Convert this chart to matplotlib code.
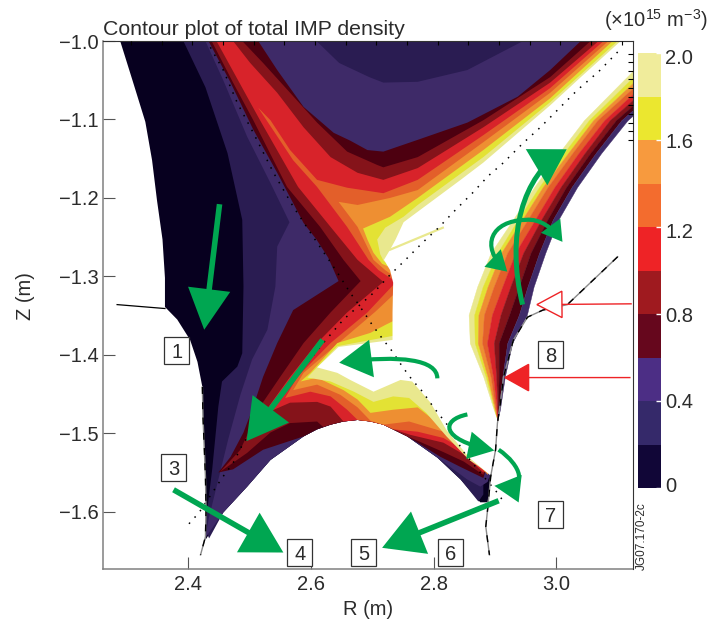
# Contour plot of total IMP density, redrawn from level outlines.
import matplotlib
matplotlib.use("Agg")
import matplotlib.pyplot as plt
import numpy as np
from matplotlib.cm import ScalarMappable
from matplotlib.colors import BoundaryNorm, ListedColormap
from matplotlib.patches import FancyArrowPatch, Rectangle
from matplotlib.path import Path
from matplotlib.transforms import ScaledTranslation

plt.rcParams["font.family"] = ["Liberation Sans", "DejaVu Sans"]
plt.rcParams["mathtext.fontset"] = "custom"
plt.rcParams["mathtext.rm"] = "Liberation Sans"
plt.rcParams["mathtext.default"] = "regular"

TXT = "#2b2b2b"
GREEN = "#00a651"
RED = "#ee2326"

# Colours of the ten density bands, in the plot and in the colour bar.
plot_colors = ["#07001f", "#2a1c52", "#3e2a68", "#4d0010", "#85131a",
               "#d8232a", "#e35f2a", "#ee8f32", "#e3e234", "#e9e88e"]
bar_colors = ["#110637", "#35296a", "#4c2e85", "#66071d", "#9f1a1f",
              "#ee2326", "#f36c2e", "#f79a3e", "#ebe72f", "#f0ec9b"]
bar_levels = [0, 0.2, 0.4, 0.6, 0.8, 1.0, 1.2, 1.4, 1.6, 1.8, 2.0]
bar_ticks = [0, 0.4, 0.8, 1.2, 1.6, 2.0]
bar_tick_labels = ["0", "0.4", "0.8", "1.2", "1.6", "2.0"]

r_ticks = [2.4, 2.6, 2.8, 3.0]
z_ticks = [-1.0, -1.1, -1.2, -1.3, -1.4, -1.5, -1.6]

# Outer edge of the data: the wall on the left, then the dome underneath.
wall_left = [(2.289, -1.0), (2.309, -1.05), (2.33, -1.103), (2.341, -1.152), (2.349, -1.203),
             (2.358, -1.253), (2.362, -1.302), (2.362, -1.339), (2.382, -1.355), (2.403, -1.381),
             (2.415, -1.409), (2.423, -1.441), (2.424, -1.479), (2.428, -1.555), (2.429, -1.597),
             (2.428, -1.636)]
dome = [(2.457, -1.601), (2.496, -1.568), (2.534, -1.534), (2.588, -1.504), (2.61, -1.495),
        (2.632, -1.489), (2.653, -1.485), (2.676, -1.483), (2.697, -1.485), (2.718, -1.489),
        (2.757, -1.504), (2.806, -1.531)]
dome_top = [(2.632, -1.489), (2.653, -1.485), (2.676, -1.483), (2.697, -1.485), (2.718, -1.489)]
corner = [(3.113, -1.0)]

# Outline of the area above each level. Painted low to high, so each one hides the last.
above_00 = wall_left + dome + [(2.844, -1.559), (2.876, -1.588), (2.888, -1.588), (2.893, -1.557)] + corner
above_02 = [(2.392, -1.0), (2.428, -1.059), (2.464, -1.143), (2.488, -1.228), (2.49, -1.313),
            (2.488, -1.398), (2.48, -1.415), (2.455, -1.434), (2.449, -1.466), (2.439, -1.546),
            (2.431, -1.597), (2.428, -1.623), (2.434, -1.634)] + dome + [
            (2.844, -1.559), (2.873, -1.587), (2.881, -1.578), (2.881, -1.561), (2.891, -1.557)] + corner
above_04 = [(2.428, -1.0), (2.457, -1.05), (2.496, -1.122), (2.534, -1.181), (2.565, -1.231),
            (2.545, -1.262), (2.542, -1.313), (2.529, -1.368), (2.504, -1.406), (2.485, -1.451),
            (2.465, -1.508), (2.449, -1.559), (2.433, -1.61), (2.428, -1.633)] + dome + [
            (2.855, -1.559), (2.876, -1.568), (2.888, -1.562)] + corner + [
            (2.946, -1.0), (2.909, -1.015), (2.855, -1.037), (2.774, -1.052), (2.718, -1.053),
            (2.695, -1.046), (2.646, -1.028), (2.609, -1.0)]
above_06 = corner + [(3.04, -1.0), (2.99, -1.037), (2.937, -1.071), (2.855, -1.104), (2.774, -1.126),
            (2.718, -1.141), (2.692, -1.139), (2.664, -1.127), (2.637, -1.117), (2.588, -1.084),
            (2.545, -1.037), (2.514, -1.0), (2.433, -1.0), (2.469, -1.053), (2.506, -1.113),
            (2.545, -1.168), (2.588, -1.232), (2.609, -1.253), (2.628, -1.276), (2.645, -1.306),
            (2.635, -1.311), (2.571, -1.343), (2.545, -1.385), (2.522, -1.428), (2.506, -1.466),
            (2.49, -1.499), (2.469, -1.53), (2.449, -1.55), (2.473, -1.546), (2.522, -1.521),
            (2.588, -1.504), (2.61, -1.495)] + dome_top + [
            (2.757, -1.504), (2.811, -1.53), (2.844, -1.543), (2.881, -1.557)]
above_08 = corner + [(3.056, -1.0), (2.99, -1.046), (2.881, -1.101), (2.774, -1.148), (2.718, -1.161),
            (2.708, -1.158), (2.659, -1.141), (2.61, -1.104), (2.566, -1.066), (2.522, -1.028),
            (2.488, -1.0), (2.438, -1.0), (2.473, -1.053), (2.506, -1.101), (2.561, -1.186),
            (2.615, -1.237), (2.653, -1.279), (2.681, -1.306), (2.632, -1.346), (2.588, -1.385),
            (2.55, -1.428), (2.517, -1.466), (2.485, -1.521), (2.452, -1.549), (2.496, -1.525),
            (2.534, -1.499), (2.566, -1.487), (2.61, -1.485), (2.62, -1.492)] + dome_top + [
            (2.757, -1.504), (2.778, -1.511), (2.816, -1.524), (2.849, -1.536), (2.881, -1.553)]
above_10 = corner + [(3.069, -1.0), (2.99, -1.053), (2.881, -1.11), (2.774, -1.162), (2.718, -1.177),
            (2.676, -1.168), (2.632, -1.148), (2.588, -1.11), (2.545, -1.066), (2.501, -1.028),
            (2.473, -1.0), (2.446, -1.0), (2.517, -1.101), (2.579, -1.186), (2.632, -1.237),
            (2.676, -1.279), (2.718, -1.307), (2.659, -1.346), (2.61, -1.385), (2.566, -1.428),
            (2.522, -1.476), (2.566, -1.461), (2.61, -1.46), (2.632, -1.466), (2.653, -1.485),
            (2.676, -1.483), (2.697, -1.485), (2.718, -1.489), (2.746, -1.498), (2.762, -1.502),
            (2.816, -1.512), (2.849, -1.527), (2.881, -1.55)]
above_12 = corner + [(3.077, -1.0), (2.99, -1.06), (2.881, -1.12), (2.774, -1.177), (2.718, -1.194),
            (2.659, -1.187), (2.61, -1.177), (2.566, -1.139), (2.534, -1.101), (2.514, -1.085),
            (2.571, -1.152), (2.61, -1.186), (2.659, -1.237), (2.694, -1.279), (2.71, -1.292),
            (2.739, -1.307), (2.692, -1.346), (2.632, -1.385), (2.578, -1.428), (2.558, -1.455),
            (2.599, -1.447), (2.632, -1.453), (2.659, -1.47), (2.676, -1.483), (2.697, -1.485),
            (2.718, -1.489), (2.734, -1.495), (2.774, -1.498), (2.816, -1.506), (2.849, -1.521),
            (2.884, -1.55)]
above_14 = corner + [(3.085, -1.0), (2.99, -1.066), (2.881, -1.129), (2.774, -1.19), (2.729, -1.2),
            (2.676, -1.209), (2.645, -1.205), (2.676, -1.237), (2.702, -1.279), (2.721, -1.292),
            (2.739, -1.302), (2.739, -1.32), (2.705, -1.345), (2.648, -1.383), (2.588, -1.423),
            (2.571, -1.445), (2.61, -1.438), (2.648, -1.451), (2.676, -1.467), (2.697, -1.484),
            (2.718, -1.489), (2.76, -1.485), (2.816, -1.498), (2.852, -1.518), (2.888, -1.553)]
above_16 = corner + [(3.092, -1.0), (2.99, -1.073), (2.881, -1.139), (2.774, -1.2), (2.729, -1.224),
            (2.685, -1.239), (2.692, -1.253), (2.702, -1.27), (2.716, -1.284), (2.739, -1.292),
            (2.739, -1.355), (2.721, -1.362), (2.697, -1.372), (2.643, -1.385), (2.599, -1.423),
            (2.583, -1.434), (2.61, -1.429), (2.653, -1.445), (2.676, -1.457), (2.697, -1.474),
            (2.734, -1.47), (2.774, -1.467), (2.8, -1.483), (2.839, -1.512), (2.888, -1.55)]
above_18 = corner + [(3.1, -1.0), (2.99, -1.078), (2.881, -1.148), (2.774, -1.209), (2.751, -1.224),
            (2.721, -1.238), (2.708, -1.253), (2.713, -1.272), (2.719, -1.281), (2.739, -1.281),
            (2.739, -1.375), (2.719, -1.378), (2.643, -1.389), (2.594, -1.429), (2.632, -1.434),
            (2.67, -1.447), (2.702, -1.46), (2.734, -1.453), (2.76, -1.455), (2.788, -1.474),
            (2.821, -1.504), (2.858, -1.534), (2.888, -1.55)]
above_20 = [(3.137, -1.0), (3.105, -1.0), (3.04, -1.046), (2.99, -1.082), (2.881, -1.155),
            (2.844, -1.177), (2.751, -1.231), (2.738, -1.253), (2.729, -1.266), (2.719, -1.279),
            (2.729, -1.292), (2.734, -1.308), (2.733, -1.346), (2.733, -1.381), (2.645, -1.39),
            (2.61, -1.416), (2.643, -1.423), (2.664, -1.432), (2.702, -1.447), (2.746, -1.432),
            (2.765, -1.434), (2.795, -1.461), (2.821, -1.496), (2.858, -1.531), (2.893, -1.554),
            (2.903, -1.554)]
streak_r = [2.729, 2.815]
streak_z = [-1.266, -1.238]

# The outer leg on the right, read as band edges along rows of constant Z.
leg_z = [-1.483, -1.47, -1.428, -1.385, -1.349, -1.313, -1.27, -1.228, -1.186, -1.143, -1.101, -1.037]
leg_18 = [2.904, 2.898, 2.881, 2.859, 2.857, 2.871, 2.893, 2.929, 2.964, 3.004, 3.045, 3.126]
leg_16 = [2.904, 2.899, 2.885, 2.867, 2.866, 2.88, 2.904, 2.937, 2.972, 3.012, 3.053, 3.137]
leg_14 = [2.904, 2.9, 2.888, 2.872, 2.873, 2.888, 2.91, 2.944, 2.978, 3.019, 3.06, 3.147]
leg_12 = [2.904, 2.901, 2.893, 2.879, 2.882, 2.898, 2.92, 2.953, 2.986, 3.026, 3.067, 3.157]
leg_10 = [2.904, 2.903, 2.897, 2.887, 2.895, 2.912, 2.933, 2.965, 2.997, 3.036, 3.078, 3.167]
leg_08 = [2.904, 2.904, 2.902, 2.898, 2.909, 2.925, 2.946, 2.975, 3.007, 3.046, 3.087, 3.18]
leg_06 = [2.904, 2.905, 2.906, 2.906, 2.923, 2.939, 2.958, 2.985, 3.016, 3.055, 3.097, 3.19]
leg_04 = [2.904, 2.906, 2.912, 2.92, 2.939, 2.953, 2.972, 2.994, 3.025, 3.064, 3.106, 3.199]
leg_end = [2.904, 2.908, 2.916, 2.928, 2.952, 2.963, 2.982, 3.003, 3.034, 3.073, 3.116, 3.209]

# Dotted separatrix and the wall traces.
sep_a_r = [3.1, 3.069, 3.035, 3.007, 2.974, 2.946, 2.914, 2.889, 2.863, 2.836, 2.808, 2.782, 2.754,
           2.729, 2.702, 2.676, 2.653, 2.62, 2.49, 2.473, 2.455, 2.439, 2.416, 2.403, 2.4]
sep_a_z = [-1.014, -1.039, -1.062, -1.084, -1.11, -1.13, -1.155, -1.172, -1.194, -1.215, -1.238,
           -1.257, -1.279, -1.298, -1.321, -1.339, -1.355, -1.385, -1.512, -1.538, -1.557, -1.576,
           -1.603, -1.613, -1.618]
sep_b_r = [2.436, 2.457, 2.48, 2.506, 2.539, 2.571, 2.604, 2.643, 2.664, 2.676, 2.689, 2.7, 2.718,
           2.733, 2.749, 2.765, 2.782, 2.8, 2.822, 2.849, 2.876, 2.904, 2.914]
sep_b_z = [-1.008, -1.037, -1.079, -1.117, -1.168, -1.211, -1.25, -1.295, -1.321, -1.334, -1.349,
           -1.362, -1.381, -1.396, -1.415, -1.432, -1.447, -1.467, -1.489, -1.524, -1.55, -1.576,
           -1.587]
stub_r = [2.284, 2.362]
stub_z = [-1.336, -1.341]
wall_l_r = [2.423, 2.424, 2.428, 2.429, 2.428, 2.42]
wall_l_z = [-1.441, -1.479, -1.555, -1.597, -1.632, -1.655]
wall_r_r = [3.1, 3.018, 2.978, 2.953, 2.93, 2.914, 2.909, 2.904, 2.901, 2.893, 2.888, 2.885, 2.891]
wall_r_z = [-1.275, -1.336, -1.343, -1.352, -1.381, -1.428, -1.461, -1.487, -1.521, -1.555, -1.597,
            -1.619, -1.655]

# Numbered boxes: label, R, Z of the centre.
box_labels = ["1", "3", "4", "5", "6", "7", "8"]
box_r = [2.381, 2.376, 2.582, 2.686, 2.828, 2.991, 2.991]
box_z = [-1.394, -1.544, -1.652, -1.652, -1.652, -1.603, -1.4]


def add_arrow(ax, pts, color, lw, head, style="-|>", face=None, curved=False):
    if curved:
        codes = [Path.MOVETO] + [Path.CURVE4] * (len(pts) - 1)
        kw = {"path": Path(pts, codes)}
    else:
        kw = {"posA": pts[0], "posB": pts[1]}
    arrowstyle = "%s,head_length=%g,head_width=%g" % (style, head[0], head[1])
    patch = FancyArrowPatch(arrowstyle=arrowstyle, mutation_scale=1, shrinkA=0, shrinkB=0,
                            lw=lw, edgecolor=color, facecolor=face or color, zorder=8,
                            joinstyle="miter", capstyle="butt", **kw)
    ax.add_patch(patch)


fig = plt.figure(figsize=(7.10, 6.21), dpi=100)
ax = fig.add_axes([103 / 710, 1 - 569 / 621, 530 / 710, 528 / 621])

contours = [above_00, above_02, above_04, above_06, above_08, above_10,
            above_12, above_14, above_16, above_18]
for i, (outline, col) in enumerate(zip(contours, plot_colors)):
    xs, ys = zip(*outline)
    ax.fill(xs, ys, color=col, lw=0, zorder=2 + i * 0.01)
xs, ys = zip(*above_20)
ax.fill(xs, ys, color="white", lw=0, zorder=2.2)
ax.plot(streak_r, streak_z, color=plot_colors[9], lw=1.6, zorder=2.25)

leg_edges = [leg_18, leg_16, leg_14, leg_12, leg_10, leg_08, leg_06, leg_04, leg_end]
leg_colors = plot_colors[9:1:-1]
for left, right, col in zip(leg_edges[:-1], leg_edges[1:], leg_colors):
    ax.fill_betweenx(leg_z, left, right, color=col, lw=0.3, zorder=2.3)

ax.plot(sep_a_r, sep_a_z, color="black", lw=1.1, ls=(0, (1, 4.5)), zorder=3)
ax.plot(sep_b_r, sep_b_z, color="black", lw=1.1, ls=(0, (1, 4.5)), zorder=3)
ax.plot(stub_r, stub_z, color="black", lw=0.9, zorder=3)
for rr, zz in [(wall_l_r, wall_l_z), (wall_r_r, wall_r_z)]:
    ax.plot(rr, zz, color="#8a8a8a", lw=1.0, zorder=3)
    ax.plot(rr, zz, color="black", lw=1.0, ls=(0, (5, 6)), zorder=3)

# Red pointers from the right.
add_arrow(ax, [(3.123, -1.335), (2.966, -1.336)], RED, 1.0, (18, 9.5), face="white")
add_arrow(ax, [(3.121, -1.429), (2.914, -1.429)], RED, 1.0, (17, 9.5))

# Straight green arrows.
add_arrow(ax, [(2.451, -1.208), (2.426, -1.368)], GREEN, 4.0, (23, 12))
add_arrow(ax, [(2.619, -1.381), (2.495, -1.51)], GREEN, 4.0, (23, 13))
add_arrow(ax, [(2.376, -1.572), (2.555, -1.652)], GREEN, 4.0, (23, 13))
add_arrow(ax, [(2.906, -1.586), (2.716, -1.646)], GREEN, 4.0, (23, 13))

# Curved green arrows.
add_arrow(ax, [(2.945, -1.336), (2.917, -1.247), (2.946, -1.171), (3.017, -1.138)],
          GREEN, 3.6, (20, 12), curved=True)
add_arrow(ax, [(2.92, -1.294), (2.876, -1.262), (2.893, -1.229), (2.95, -1.228),
               (2.974, -1.226), (2.994, -1.239), (3.01, -1.256)],
          GREEN, 3.0, (10, 6), style="<|-|>", curved=True)
add_arrow(ax, [(2.806, -1.43), (2.806, -1.406), (2.746, -1.4), (2.646, -1.41)],
          GREEN, 3.0, (19, 11), curved=True)
add_arrow(ax, [(2.855, -1.476), (2.811, -1.483), (2.811, -1.508), (2.899, -1.522)],
          GREEN, 3.0, (14, 7.5), curved=True)
add_arrow(ax, [(2.906, -1.521), (2.942, -1.54), (2.958, -1.572), (2.899, -1.567)],
          GREEN, 3.0, (14, 7.5), curved=True)

for lab, r, z in zip(box_labels, box_r, box_z):
    ax.add_patch(Rectangle((r - 0.0204, z - 0.0172), 0.0408, 0.0344, fc="white", ec="#333333",
                           lw=0.9, zorder=9))
    ax.text(r, z, lab, ha="center", va="center_baseline", fontsize=14.5, color=TXT, zorder=10)

ax.set_xlim(2.261, 3.125)
ax.set_ylim(-1.673, -1.0)
ax.set_xticks(r_ticks)
ax.set_xticklabels(["%.1f" % v for v in r_ticks])
ax.set_yticks(z_ticks)
ax.set_yticklabels(["\u2212%.1f" % abs(v) for v in z_ticks])
ax.tick_params(direction="in", length=8.5, width=0.8, color="#555555", labelsize=14.5,
               labelcolor=TXT, pad=3)
ax.tick_params(axis="x", pad=4.5)
ax.set_xlabel("R (m)", fontsize=14.5, color=TXT, labelpad=4)
ax.set_ylabel("Z (m)", fontsize=14.5, color=TXT)
ax.yaxis.set_label_coords(-0.128, 0.517)
ax.set_title("Contour plot of total IMP density", loc="left", fontsize=15.3, color=TXT, pad=4)
for side in ["left", "bottom"]:
    ax.spines[side].set_color("#808080")
    ax.spines[side].set_linewidth(1.1)
for side in ["top", "right"]:
    ax.spines[side].set_color("#333333")
    ax.spines[side].set_linewidth(0.8)
    ax.spines[side].set_zorder(6)

# Short ticks along the top and the upper part of the right side.
top = ax.secondary_xaxis("top")
top.set_xticks(np.arange(2.3065, 3.12, 0.05))
top.tick_params(direction="in", length=3, width=0.8, color="black", labeltop=False)
top.spines["top"].set_visible(False)
top.set_zorder(7)
right = ax.secondary_yaxis("right")
right.set_yticks(np.arange(-1.126, -1.01, 0.011))
right.tick_params(direction="in", length=3.6, width=0.8, color="black", labelright=False)
right.spines["right"].set_visible(False)
right.set_zorder(7)

# Colour bar.
cax = fig.add_axes([638 / 710, 1 - 488 / 621, 23 / 710, 435 / 621])
sm = ScalarMappable(norm=BoundaryNorm(bar_levels, 10), cmap=ListedColormap(bar_colors))
cb = fig.colorbar(sm, cax=cax, ticks=bar_ticks, spacing="proportional")
cb.ax.set_yticklabels(bar_tick_labels)
cb.ax.tick_params(direction="in", length=3.5, width=1, color="white", labelsize=14.5,
                  labelcolor=TXT, pad=3)
cb.ax.minorticks_off()
cb.outline.set_visible(False)

# The printed labels sit a little off their ticks at 0, 1.2 and 2.0.
labs = cb.ax.get_yticklabels()
for idx, dy_px in [(0, 4), (3, -3), (5, -4)]:
    shift = ScaledTranslation(0, dy_px / 100, fig.dpi_scale_trans)
    labs[idx].set_transform(labs[idx].get_transform() + shift)

fig.text(708 / 710, 1 - 20 / 621, "(\u00d710$^{15}$ m$^{\u22123}$)", ha="right", va="center",
         fontsize=14.5, color=TXT)
fig.text(642 / 710, 1 - 536 / 621, "JG07.170-2c", rotation=90, ha="center", va="center",
         fontsize=8.5, color=TXT)

fig.savefig("out.png", dpi=100)
